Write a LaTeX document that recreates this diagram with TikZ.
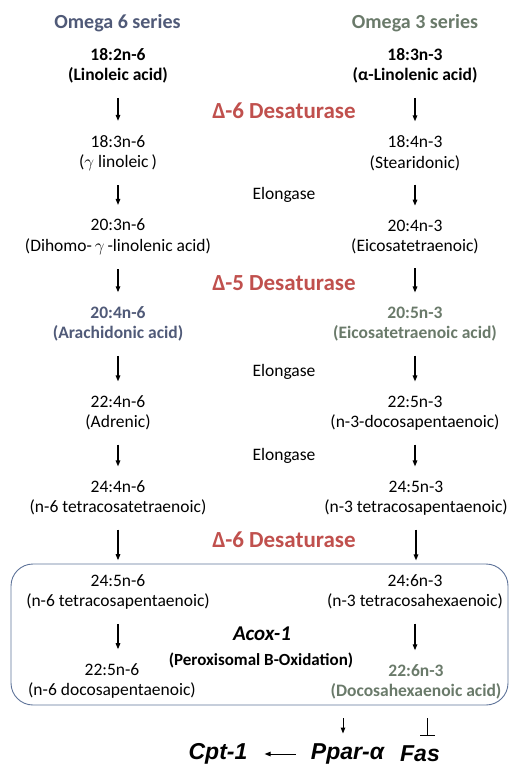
\documentclass[tikz,border=0pt]{standalone}
\usepackage{fontspec}
\setmainfont{Carlito}
\newfontfamily\arialfont{Liberation Sans}
\usetikzlibrary{arrows.meta,calc}
\definecolor{om6}{HTML}{505A78}
\definecolor{om3}{HTML}{6A7A6A}
\definecolor{desred}{HTML}{C0504D}
\definecolor{boxline}{HTML}{5E7399}
\tikzset{
  cmp/.style={align=center,inner sep=0pt,font=\fontsize{17.5}{20.5}\selectfont},
  cmpb/.style={cmp,font=\fontsize{17.5}{20.5}\selectfont\bfseries},
  ttl/.style={inner sep=0pt,font=\fontsize{20}{24}\selectfont\bfseries},
  enz/.style={inner sep=0pt,text=desred,font=\fontsize{23}{27}\selectfont\bfseries},
  elo/.style={inner sep=0pt,font=\fontsize{17.5}{20.5}\selectfont},
  gene/.style={inner sep=0pt,font=\fontsize{23}{27}\selectfont\arialfont\bfseries\itshape},
  arr/.style={line width=1.3pt,-{Triangle[length=6pt,width=4.5pt]},shorten <=14pt,shorten >=14pt},
  arrs/.style={line width=1pt,-{Triangle[length=6pt,width=4.5pt]}},
}
\begin{document}
\begin{tikzpicture}[x=1pt,y=-1pt]
\useasboundingbox (0,0) rectangle (509,767);
% titles
\node[ttl,text=om6] (t6) at (117.5,23) {Omega 6 series};
\node[ttl,text=om3] (t3) at (415,23) {Omega 3 series};
% left column
\node[cmpb] (L1) at (118,66) {18:2n-6\\(Linoleic acid)};
\node[cmp] (L2) at (118,153) {18:3n-6\\($\gamma$ linoleic\,)};
\node[cmp] (L3) at (118,237) {20:3n-6\\(Dihomo-\,$\gamma$\,-linolenic acid)};
\node[cmpb,text=om6] (L4) at (118,324) {20:4n-6\\(Arachidonic acid)};
\node[cmp] (L5) at (118,413) {22:4n-6\\(Adrenic)};
\node[cmp] (L6) at (118,498) {24:4n-6\\(n-6 tetracosatetraenoic)};
\node[cmp] (L7) at (118,592) {24:5n-6\\(n-6 tetracosapentaenoic)};
\node[cmp] (L8) at (112,681) {22:5n-6\\(n-6 docosapentaenoic)};
% right column
\node[cmpb] (R1) at (415,66) {18:3n-3\\(α-Linolenic acid)};
\node[cmp] (R2) at (415,153) {18:4n-3\\(Stearidonic)};
\node[cmp] (R3) at (415,237) {20:4n-3\\(Eicosatetraenoic)};
\node[cmpb,text=om3] (R4) at (415,324) {20:5n-3\\(Eicosatetraenoic acid)};
\node[cmp] (R5) at (415,413) {22:5n-3\\(n-3-docosapentaenoic)};
\node[cmp] (R6) at (416,498) {24:5n-3\\(n-3 tetracosapentaenoic)};
\node[cmp] (R7) at (415,592) {24:6n-3\\(n-3 tetracosahexaenoic)};
\node[cmpb,text=om3] (R8) at (416,682) {22:6n-3\\(Docosahexaenoic acid)};
% enzymes
\node[enz] (D6a) at (284,111) {Δ-6 Desaturase};
\node[elo] (E1) at (284,195) {Elongase};
\node[enz] (D5) at (284,283) {Δ-5 Desaturase};
\node[elo] (E2) at (284,372) {Elongase};
\node[elo] (E3) at (284,456) {Elongase};
\node[enz] (D6b) at (284,540) {Δ-6 Desaturase};
\node[inner sep=0pt,font=\fontsize{21}{25}\selectfont\bfseries\itshape] (acox) at (262,634) {Acox-1};
\node[inner sep=0pt,font=\fontsize{17}{20}\selectfont\bfseries] (perox) at (261,660) {(Peroxisomal B-Oxidation)};
% box
\draw[boxline,line width=0.9pt,rounded corners=22pt] (11,564) rectangle (508,705);
\coordinate (pp0) at (343,705);
\coordinate (fa0) at (427,705);
% arrows
\foreach \a/\b in {L1/L2,L2/L3,L3/L4,L4/L5,L5/L6,L6/L7,R1/R2,R2/R3,R3/R4,R4/R5,R5/R6,R6/R7}
  \draw[arr] (\a.south) -- (\a.south |- \b.north);
\draw[arr] (L7.south) -- (L7.south |- L8.north);
\draw[arr] (R7.south) -- (R7.south |- R8.north);
% genes
\node[gene] (cpt) at (218,754) {Cpt-1};
\node[gene] (ppar) at (347.5,754) {Ppar-α};
\node[gene] (fas) at (420,754) {Fas};
\draw[arrs,shorten <=13pt,shorten >=10pt] (pp0) -- (pp0 |- ppar.north);
\draw[line width=1pt,-{Bar[width=15pt]},shorten <=13pt,shorten >=10pt] (fa0) -- (fa0 |- fas.north);
\draw[arrs,shorten <=15pt,shorten >=17pt] (ppar.west) -- (cpt.east);
\end{tikzpicture}
\end{document}
